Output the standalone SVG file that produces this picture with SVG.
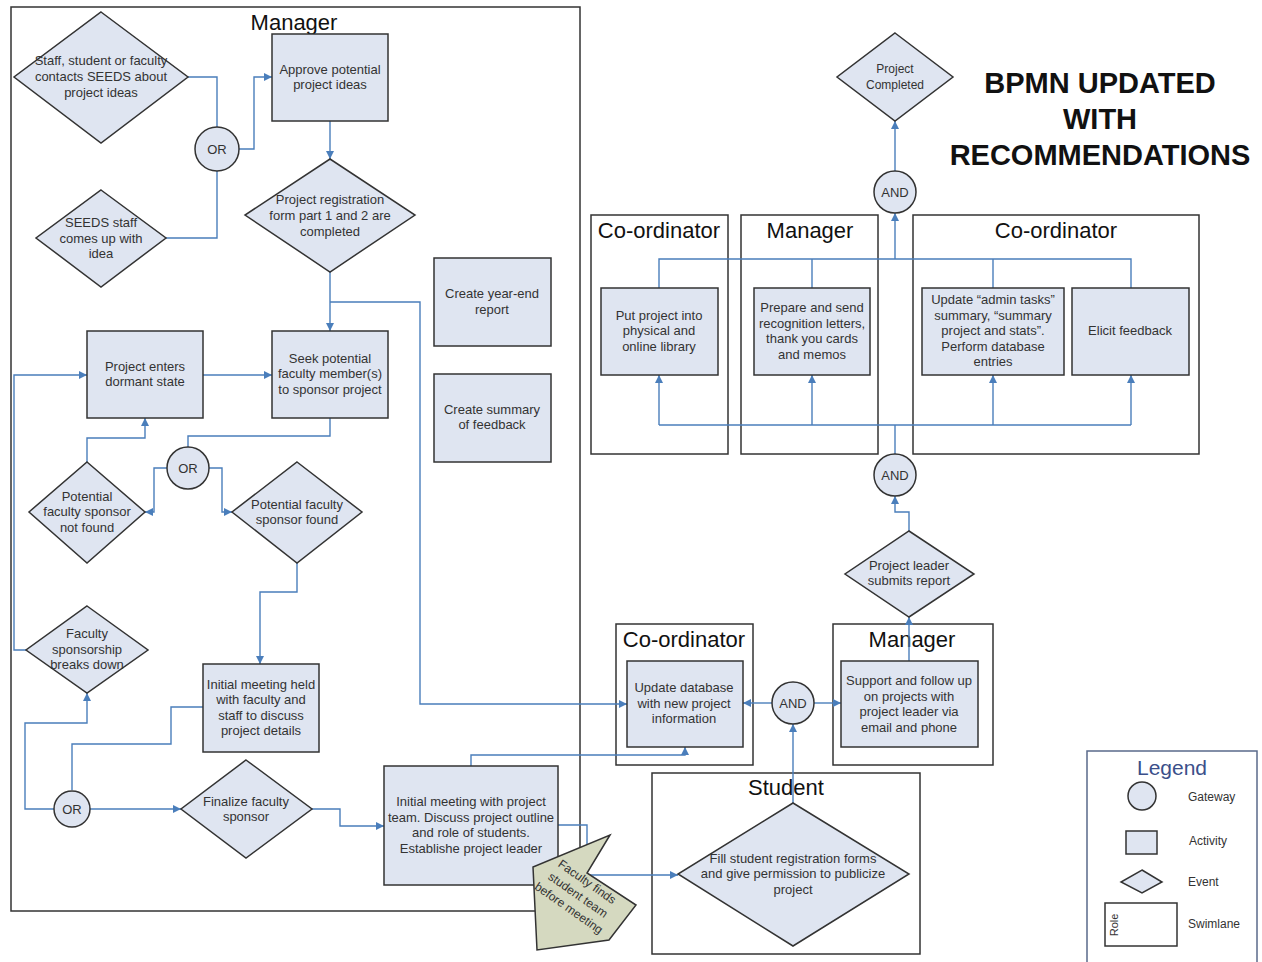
<svg xmlns="http://www.w3.org/2000/svg" width="1262" height="962" viewBox="0 0 1262 962">
<defs>
<style>
text{font-family:"Liberation Sans",Arial,sans-serif;fill:#333}
.t{font-size:13px;text-anchor:middle}
.s{font-size:12px;text-anchor:middle}
.lane{fill:none;stroke:#333;stroke-width:1.5}
.lt{font-size:22px;text-anchor:middle;fill:#111}
.box{fill:#dfe5f1;stroke:#333;stroke-width:1.5}
.gw{fill:#dfe5f1;stroke:#333;stroke-width:1.5}
.c{fill:none;stroke:#4a7ebb;stroke-width:1.4}
.a{marker-end:url(#ah)}
</style>
<marker id="ah" viewBox="0 0 10 10" refX="10" refY="5" markerWidth="9" markerHeight="8" markerUnits="userSpaceOnUse" orient="auto"><path d="M0,0 L10,5 L0,10 z" fill="#4a7ebb"/></marker>
</defs>
<rect width="1262" height="962" fill="#fff"/>

<!-- swimlanes -->
<g id="lanes">
<rect class="lane" x="11" y="7" width="569" height="904"/>
<text class="lt" x="294" y="30">Manager</text>
<rect class="lane" x="591" y="215" width="137" height="239"/>
<text class="lt" x="659" y="238">Co-ordinator</text>
<rect class="lane" x="741" y="215" width="137" height="239"/>
<text class="lt" x="810" y="238">Manager</text>
<rect class="lane" x="913" y="215" width="286" height="239"/>
<text class="lt" x="1056" y="238">Co-ordinator</text>
<rect class="lane" x="616" y="624" width="137" height="141"/>
<text class="lt" x="684" y="647">Co-ordinator</text>
<rect class="lane" x="833" y="624" width="160" height="141"/>
<text class="lt" x="912" y="647">Manager</text>
<rect class="lane" x="652" y="773" width="268" height="181"/>
<text class="lt" x="786" y="795">Student</text>
</g>

<g id="title">
<text x="1100" y="93" style="font-size:29px;font-weight:bold;text-anchor:middle;fill:#111">BPMN UPDATED</text>
<text x="1100" y="129" style="font-size:29px;font-weight:bold;text-anchor:middle;fill:#111">WITH</text>
<text x="1100" y="165" style="font-size:29px;font-weight:bold;text-anchor:middle;fill:#111">RECOMMENDATIONS</text>
</g>

<!-- connectors -->
<g id="connectors">
<polyline class="c" points="188,77 217,77 217,127"/>
<polyline class="c" points="166,238 217,238 217,171"/>
<polyline class="c a" points="239,149 254,149 254,77 272,77"/>
<polyline class="c a" points="330,121 330,159"/>
<polyline class="c a" points="330,272 330,331"/>
<polyline class="c a" points="330,302 420,302 420,704 627,704"/>
<polyline class="c a" points="203,375 272,375"/>
<polyline class="c a" points="26,650 14,650 14,375 87,375"/>
<polyline class="c" points="330,418 330,436 188,436 188,447"/>
<polyline class="c a" points="167,468 154,468 154,512 145,512"/>
<polyline class="c a" points="209,468 222,468 222,512 232,512"/>
<polyline class="c a" points="87,462 87,438 145,438 145,418"/>
<polyline class="c a" points="297,563 297,592 260,592 260,664"/>
<polyline class="c" points="203,707 171,707 171,744 72,744 72,790"/>
<polyline class="c a" points="54,809 25,809 25,723 87,723 87,693"/>
<polyline class="c a" points="90,809 181,809"/>
<polyline class="c a" points="312,809 340,809 340,826 384,826"/>
<polyline class="c a" points="471,766 471,755 685,755 685,747"/>
<polyline class="c a" points="558,825 587,825 587,875 678,875"/>
<polyline class="c a" points="772,703 743,703"/>
<polyline class="c a" points="814,703 841,703"/>
<polyline class="c a" points="793,803 793,724"/>
<polyline class="c a" points="909,661 909,617"/>
<polyline class="c a" points="909,531 909,512 895,512 895,496"/>
<polyline class="c" points="895,454 895,425"/>
<polyline class="c" points="659,425 1131,425"/>
<polyline class="c a" points="659,425 659,375"/>
<polyline class="c a" points="812,425 812,375"/>
<polyline class="c a" points="993,425 993,375"/>
<polyline class="c a" points="1131,425 1131,375"/>
<polyline class="c" points="659,288 659,259 1131,259 1131,288"/>
<polyline class="c" points="812,288 812,259"/>
<polyline class="c" points="993,288 993,259"/>
<polyline class="c a" points="895,259 895,213"/>
<polyline class="c a" points="895,171 895,121"/>
</g>

<!-- nodes -->
<g id="ev-contacts">
<polygon class="box" points="101,12 188,77 101,143 14,77"/>
<text class="t" x="101" y="65">Staff, student or faculty</text>
<text class="t" x="101" y="81">contacts SEEDS about</text>
<text class="t" x="101" y="97">project ideas</text>
</g>
<g id="ev-seeds">
<polygon class="box" points="101,190 166,238 101,287 36,238"/>
<text class="t" x="101" y="227">SEEDS staff</text>
<text class="t" x="101" y="243">comes up with</text>
<text class="t" x="101" y="258">idea</text>
</g>
<g id="gw-or1">
<circle class="gw" cx="217" cy="149" r="22"/>
<text class="t" x="217" y="154">OR</text>
</g>
<g id="act-approve">
<rect class="box" x="272" y="34" width="116" height="87"/>
<text class="t" x="330" y="74">Approve potential</text>
<text class="t" x="330" y="89">project ideas</text>
</g>
<g id="ev-registration">
<polygon class="box" points="330,159 415,215 330,272 245,215"/>
<text class="t" x="330" y="204">Project registration</text>
<text class="t" x="330" y="220">form part 1 and 2 are</text>
<text class="t" x="330" y="236">completed</text>
</g>
<g id="act-seek">
<rect class="box" x="272" y="331" width="116" height="87"/>
<text class="t" x="330" y="363">Seek potential</text>
<text class="t" x="330" y="378">faculty member(s)</text>
<text class="t" x="330" y="394">to sponsor project</text>
</g>
<g id="act-dormant">
<rect class="box" x="87" y="331" width="116" height="87"/>
<text class="t" x="145" y="371">Project enters</text>
<text class="t" x="145" y="386">dormant state</text>
</g>
<g id="gw-or2">
<circle class="gw" cx="188" cy="468" r="21"/>
<text class="t" x="188" y="473">OR</text>
</g>
<g id="ev-notfound">
<polygon class="box" points="87,462 145,512 87,563 29,512"/>
<text class="t" x="87" y="501">Potential</text>
<text class="t" x="87" y="516">faculty sponsor</text>
<text class="t" x="87" y="532">not found</text>
</g>
<g id="ev-found">
<polygon class="box" points="297,462 362,512 297,563 232,512"/>
<text class="t" x="297" y="509">Potential faculty</text>
<text class="t" x="297" y="524">sponsor found</text>
</g>
<g id="act-yearend">
<rect class="box" x="434" y="258" width="117" height="88"/>
<text class="t" x="492" y="298">Create year-end</text>
<text class="t" x="492" y="314">report</text>
</g>
<g id="act-summary">
<rect class="box" x="434" y="374" width="117" height="88"/>
<text class="t" x="492" y="414">Create summary</text>
<text class="t" x="492" y="429">of feedback</text>
</g>
<g id="ev-breaks">
<polygon class="box" points="87,606 148,650 87,693 26,650"/>
<text class="t" x="87" y="638">Faculty</text>
<text class="t" x="87" y="654">sponsorship</text>
<text class="t" x="87" y="669">breaks down</text>
</g>
<g id="act-initial-faculty">
<rect class="box" x="203" y="664" width="116" height="88"/>
<text class="t" x="261" y="689">Initial meeting held</text>
<text class="t" x="261" y="704">with faculty and</text>
<text class="t" x="261" y="720">staff to discuss</text>
<text class="t" x="261" y="735">project details</text>
</g>
<g id="gw-or3">
<circle class="gw" cx="72" cy="809" r="18"/>
<text class="t" x="72" y="814">OR</text>
</g>
<g id="ev-finalize">
<polygon class="box" points="246,760 312,809 246,858 181,809"/>
<text class="t" x="246" y="806">Finalize faculty</text>
<text class="t" x="246" y="821">sponsor</text>
</g>
<g id="act-initial-team">
<rect class="box" x="384" y="766" width="174" height="119"/>
<text class="t" x="471" y="806">Initial meeting with project</text>
<text class="t" x="471" y="822">team. Discuss project outline</text>
<text class="t" x="471" y="837">and role of students.</text>
<text class="t" x="471" y="853">Establishe project leader</text>
</g>
<g id="act-update-db">
<rect class="box" x="627" y="661" width="116" height="86"/>
<text class="t" x="684" y="692">Update database</text>
<text class="t" x="684" y="708">with new project</text>
<text class="t" x="684" y="723">information</text>
</g>
<g id="gw-and-mid">
<circle class="gw" cx="793" cy="703" r="21"/>
<text class="t" x="793" y="708">AND</text>
</g>
<g id="act-support">
<rect class="box" x="841" y="661" width="137" height="86"/>
<text class="t" x="909" y="685">Support and follow up</text>
<text class="t" x="909" y="701">on projects with</text>
<text class="t" x="909" y="716">project leader via</text>
<text class="t" x="909" y="732">email and phone</text>
</g>
<g id="ev-student">
<polygon class="box" points="793,803 909,874 793,946 678,874"/>
<text class="t" x="793" y="863">Fill student registration forms</text>
<text class="t" x="793" y="878">and give permission to publicize</text>
<text class="t" x="793" y="894">project</text>
</g>
<g id="ev-leader">
<polygon class="box" points="909,531 974,574 909,617 845,574"/>
<text class="t" x="909" y="570">Project leader</text>
<text class="t" x="909" y="585">submits report</text>
</g>
<g id="gw-and-low">
<circle class="gw" cx="895" cy="475" r="21"/>
<text class="t" x="895" y="480">AND</text>
</g>
<g id="act-library">
<rect class="box" x="601" y="288" width="117" height="87"/>
<text class="t" x="659" y="320">Put project into</text>
<text class="t" x="659" y="335">physical and</text>
<text class="t" x="659" y="351">online library</text>
</g>
<g id="act-letters">
<rect class="box" x="754" y="288" width="116" height="87"/>
<text class="t" x="812" y="312">Prepare and send</text>
<text class="t" x="812" y="328">recognition letters,</text>
<text class="t" x="812" y="343">thank you cards</text>
<text class="t" x="812" y="359">and memos</text>
</g>
<g id="act-admin">
<rect class="box" x="922" y="288" width="142" height="87"/>
<text class="t" x="993" y="304">Update “admin tasks”</text>
<text class="t" x="993" y="320">summary, “summary</text>
<text class="t" x="993" y="335">project and stats”.</text>
<text class="t" x="993" y="351">Perform database</text>
<text class="t" x="993" y="366">entries</text>
</g>
<g id="act-feedback">
<rect class="box" x="1072" y="288" width="117" height="87"/>
<text class="t" x="1130" y="335">Elicit feedback</text>
</g>
<g id="gw-and-top">
<circle class="gw" cx="895" cy="192" r="21"/>
<text class="t" x="895" y="197">AND</text>
</g>
<g id="ev-completed">
<polygon class="box" points="895,33 953,77 895,121 837,77"/>
<text class="s" x="895" y="73">Project</text>
<text class="s" x="895" y="89">Completed</text>
</g>

<g id="note-arrow">
<polygon points="610,835 587,873 636,905 609,940 537,950 533,867" fill="#d5d9c0" stroke="#333" stroke-width="1.5"/>
<g transform="translate(578,895) rotate(35)">
<text class="s" x="0" y="-12">Faculty finds</text>
<text class="s" x="0" y="4">student team</text>
<text class="s" x="0" y="20">before meeting</text>
</g>
</g>

<g id="legend">
<rect x="1087" y="751" width="170" height="220" fill="#fff" stroke="#5a6a8a" stroke-width="1.5"/>
<text x="1172" y="775" style="font-size:21px;text-anchor:middle;fill:#3b4f8a">Legend</text>
<circle class="gw" cx="1142" cy="796" r="14"/>
<text x="1188" y="801" style="font-size:12px">Gateway</text>
<rect class="box" x="1126" y="831" width="31" height="23"/>
<text x="1189" y="845" style="font-size:12px">Activity</text>
<polygon class="box" points="1142,870 1162,882 1142,893 1121,882"/>
<text x="1188" y="886" style="font-size:12px">Event</text>
<rect x="1105" y="903" width="72" height="43" fill="#fff" stroke="#333" stroke-width="1.5"/>
<text transform="translate(1118,925) rotate(-90)" style="font-size:11px;text-anchor:middle">Role</text>
<text x="1188" y="928" style="font-size:12px">Swimlane</text>
</g>
</svg>
